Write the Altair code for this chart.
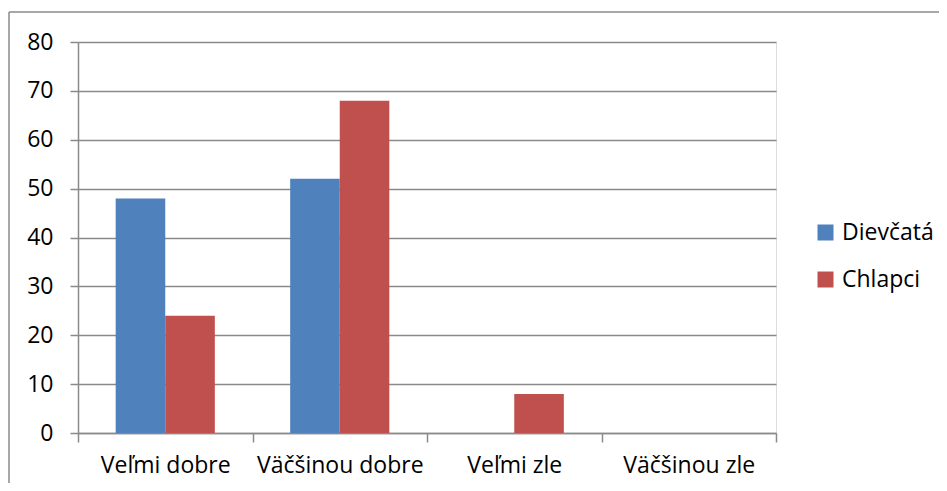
import altair as alt
import pandas as pd

categories = ["Veľmi dobre", "Väčšinou dobre", "Veľmi zle", "Väčšinou zle"]
series = ["Dievčatá", "Chlapci"]
dievcata = [48, 52, 0, 0]
chlapci = [24, 68, 8, 0]
y_ticks = [0, 10, 20, 30, 40, 50, 60, 70, 80]
colors = ["#4F81BD", "#C0504D"]

rows = []
for c, d, ch in zip(categories, dievcata, chlapci):
    rows.append({"kategoria": c, "pohlavie": series[0], "hodnota": d})
    rows.append({"kategoria": c, "pohlavie": series[1], "hodnota": ch})
df = pd.DataFrame(rows)

FONT = "Open Sans"
FS = 23
GRID = "#8a8a8a"

bars = alt.Chart(df).mark_bar(stroke=None).encode(
    x=alt.X("kategoria:N", sort=categories,
            scale=alt.Scale(paddingInner=0, paddingOuter=0),
            axis=alt.Axis(title=None, labelAngle=0, tickBand="extent", tickSize=9,
                          tickColor=GRID, tickWidth=1.5, domainColor=GRID, domainWidth=1.5,
                          labelFont=FONT, labelFontSize=FS, labelColor="#000000",
                          labelPadding=12, grid=False)),
    xOffset=alt.XOffset("pohlavie:N", sort=series,
                        scale=alt.Scale(domain=series, paddingInner=0, paddingOuter=0.76)),
    y=alt.Y("hodnota:Q", scale=alt.Scale(domain=[0, 80], nice=False),
            axis=alt.Axis(title=None, values=y_ticks, grid=True, gridColor=GRID, gridWidth=1.5,
                          tickSize=8, tickColor=GRID, tickWidth=1.5,
                          domainColor=GRID, domainWidth=1.5,
                          labelFont=FONT, labelFontSize=FS, labelColor="#000000",
                          labelPadding=17)),
    color=alt.Color("pohlavie:N", sort=series,
                    scale=alt.Scale(domain=series, range=colors),
                    legend=alt.Legend(title=None, orient="none", legendX=736, legendY=179,
                                      symbolType="square", symbolSize=256,
                                      symbolStrokeWidth=0, labelFont=FONT, labelFontSize=FS,
                                      labelColor="#000000", labelOffset=5, rowPadding=23)),
)

frame_df = pd.DataFrame({"k": [0]})
left_border = alt.Chart(frame_df).mark_rule(color=GRID, strokeWidth=1.5).encode(
    x=alt.value(-69), y=alt.value(-30), y2=alt.value(480))
top_border = alt.Chart(frame_df).mark_rule(color=GRID, strokeWidth=1.5).encode(
    x=alt.value(-69), x2=alt.value(900), y=alt.value(-30))

chart = alt.layer(bars, left_border, top_border).properties(
    width=698, height=391,
    padding={"left": 70, "top": 34, "right": 163, "bottom": 50},
    autosize=alt.AutoSizeParams(type="none"),
).configure_view(stroke=None).configure(background="#ffffff")

chart.save("out.html", embed_options={"renderer": "svg", "actions": False})
